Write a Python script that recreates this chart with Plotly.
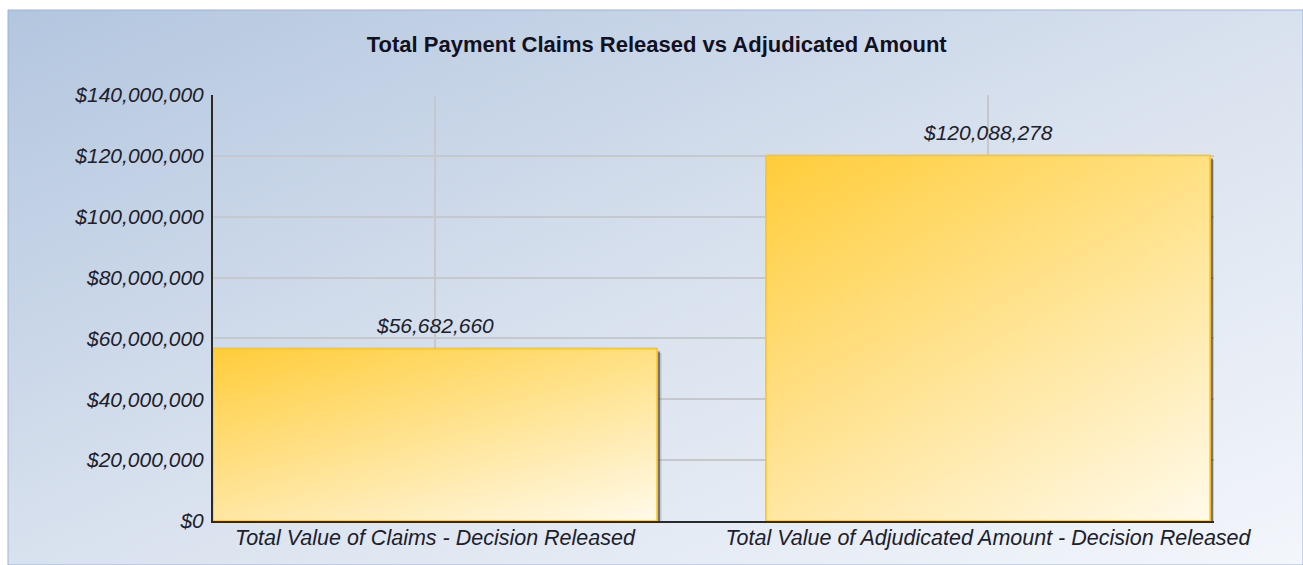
import plotly.graph_objects as go

# ---- data ----
categories = ["Total Value of Claims - Decision Released",
              "Total Value of Adjudicated Amount - Decision Released"]
values = [56682660, 120088278]
y_tick_vals = [0, 20000000, 40000000, 60000000, 80000000, 100000000, 120000000, 140000000]
y_tick_text = ["$0", "$20,000,000", "$40,000,000", "$60,000,000", "$80,000,000",
               "$100,000,000", "$120,000,000", "$140,000,000"]
title_text = "Total Payment Claims Released vs Adjudicated Amount"

# ---- layout constants ----
W, H = 1303, 565
ML, MR, MT, MB = 213, 89, 95, 44
PW, PH = W - ML - MR, H - MT - MB
UNIT_PX = 553.0
X_RANGE = [-0.4014, -0.4014 + PW / UNIT_PX]
Y_RANGE = [0, 140000000]
BAR_W = 0.803
px_x = 1 / UNIT_PX
px_y = (Y_RANGE[1] - Y_RANGE[0]) / PH

x_idx = list(range(len(categories)))
FONT = "Liberation Sans, Arial, sans-serif"
TXT = "#20202a"

fig = go.Figure()

# shadows
for dx, dy, col in [(4.5, 4.5, "rgba(90,90,90,0.25)"), (3, 3, "rgba(50,50,50,0.55)")]:
    fig.add_trace(go.Bar(x=x_idx, y=values, base=-dy * px_y, width=BAR_W,
                         offset=-BAR_W / 2 + dx * px_x,
                         marker=dict(color=col, line=dict(width=0)),
                         hoverinfo="skip", showlegend=False))

# main bars
fig.add_trace(go.Bar(x=x_idx, y=values, width=BAR_W,
                     marker=dict(color="#ffe08a", line=dict(color="#ffc41f", width=1.5)),
                     showlegend=False))

# gradient overlays
for i, v in zip(x_idx, values):
    xs = [i - BAR_W / 2, i + BAR_W / 2, i + BAR_W / 2, i - BAR_W / 2, i - BAR_W / 2]
    ys = [0, 0, v, v, 0]
    fig.add_trace(go.Scatter(x=xs, y=ys, mode="lines", fill="toself",
                             line=dict(width=0),
                             fillgradient=dict(type="vertical",
                                               colorscale=[[0, "#fffaea"], [1, "#ffd24a"]]),
                             hoverinfo="skip", showlegend=False))
    fig.add_trace(go.Scatter(x=xs, y=ys, mode="lines", fill="toself",
                             line=dict(width=1.5, color="#ffc41f"),
                             fillgradient=dict(type="horizontal",
                                               colorscale=[[0, "rgba(255,195,30,0.35)"],
                                                           [1, "rgba(255,250,235,0.35)"]]),
                             hoverinfo="skip", showlegend=False))

# value labels
for i, v in zip(x_idx, values):
    fig.add_annotation(x=i, y=v, text=f"${v:,.0f}", showarrow=False,
                       yanchor="middle", yshift=23,
                       font=dict(family=FONT, size=21, color=TXT, style="italic"))

# background panel gradient
svg = ("<svg xmlns='http://www.w3.org/2000/svg' width='1295' height='555' preserveAspectRatio='none'>"
       "<defs><linearGradient id='g' x1='0' y1='0' x2='1' y2='1'>"
       "<stop offset='0' stop-color='#b3c6df'/><stop offset='0.5' stop-color='#d8e1ee'/>"
       "<stop offset='1' stop-color='#f3f6fb'/></linearGradient></defs>"
       "<rect width='100%' height='100%' fill='url(#g)'/></svg>")
svg_uri = "data:image/svg+xml;charset=utf-8," + svg.replace("#", "%23")

px0, py0 = 8, 10
fig.add_layout_image(dict(source=svg_uri, xref="paper", yref="paper",
                          x=(px0 - ML) / PW, y=(H - MB - py0) / PH,
                          sizex=(W - px0) / PW, sizey=(H - py0) / PH,
                          xanchor="left", yanchor="top", sizing="stretch",
                          layer="below"))
fig.add_shape(type="rect", xref="paper", yref="paper",
              x0=(px0 - ML) / PW, x1=(W - ML) / PW,
              y0=-MB / PH, y1=(H - MB - py0) / PH,
              line=dict(color="rgba(150,175,212,0.9)", width=1), layer="below")

fig.update_layout(
    width=W, height=H,
    margin=dict(l=ML, r=MR, t=MT, b=MB, pad=0),
    paper_bgcolor="white", plot_bgcolor="rgba(0,0,0,0)",
    barmode="overlay", showlegend=False,
    title=dict(text=title_text, x=0.504, xref="container", xanchor="center",
               y=1 - 44 / H, yref="container", yanchor="middle",
               font=dict(family=FONT, size=22, color="#111122", weight="bold")),
    xaxis=dict(range=X_RANGE, tickvals=x_idx, ticktext=categories,
               showgrid=True, gridcolor="#c6c8cc", gridwidth=2,
               zeroline=False, showline=True, linecolor="#2a2a2a", linewidth=2,
               ticks="", ticklabelstandoff=-4,
               tickfont=dict(family=FONT, size=21.5, color=TXT, style="italic")),
    yaxis=dict(range=Y_RANGE, tickvals=y_tick_vals, ticktext=y_tick_text,
               showgrid=True, gridcolor="#c6c8cc", gridwidth=2,
               zeroline=False, showline=True, linecolor="#2a2a2a", linewidth=2,
               ticks="", ticklabelstandoff=3,
               tickfont=dict(family=FONT, size=21, color=TXT, style="italic")),
)

fig.write_html("out.html")
